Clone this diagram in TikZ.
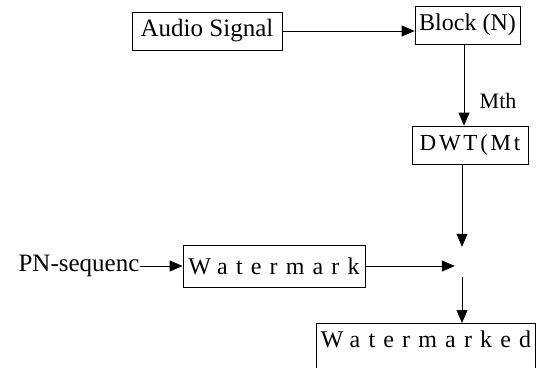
\documentclass[tikz,border=0pt]{standalone}
\usepackage{fontspec}
\setmainfont{Liberation Serif}
\newfontfamily\spacedfont[LetterSpace=34]{Liberation Serif}
\newfontfamily\dwtfont[LetterSpace=12]{Liberation Serif}
\usetikzlibrary{arrows.meta, positioning}

\begin{document}
\begin{tikzpicture}[
  x=1pt, y=-1pt,
  box/.style={rectangle, draw, line width=0.8pt, inner sep=0pt, align=center,
              minimum height=38pt, font=\fontsize{24}{28}\selectfont},
  wbox/.style={box, font=\fontsize{24}{27}\selectfont\spacedfont},
  arr/.style={-{Triangle[length=13pt, width=11pt]}, line width=0.8pt}
]
  \useasboundingbox (0,0) rectangle (537,367);

  % Boxes
  \node[box, minimum width=150pt, font=\fontsize{25}{28}\selectfont] (audio) at (207,31) {Audio Signal};
  \node[box, minimum width=105pt] (block) at (467.5,25) {Block (N)};
  \node[box, minimum width=116pt, font=\fontsize{23}{26}\selectfont\dwtfont] (dwt) at (470,145) {DWT(Mt};
  \node[wbox, minimum width=182pt, minimum height=42pt] (wm) at (274,266) {Watermark};
  \node[wbox, minimum width=219pt, text height=24pt, text depth=26pt, minimum height=0pt,
        anchor=north] (wmd) at (426,323) {Watermarked};
  \node[font=\fontsize{25}{28}\selectfont, inner sep=0pt] (pn) at (79,266) {PN-sequenc};

  % Junction (left empty)
  \node[minimum width=14pt, minimum height=30pt, inner sep=0pt] (sum) at (462,262) {};

  % Connectors
  \draw[arr] (audio.east) -- (audio.east -| block.west);
  \draw[arr] ([xshift=-3.5pt]block.south) -- ([xshift=-3.5pt]block.south |- dwt.north)
    node[pos=0.7, right=12pt, font=\fontsize{22}{24}\selectfont] (mth) {Mth};
  \draw[arr] (dwt.south -| sum) -- (sum.north);
  \draw[arr] (pn.east) -- (wm.west);
  \draw[arr] (wm.east) -- (wm.east -| sum.west);
  \draw[arr] (sum.south) -- (sum.south |- wmd.north);
\end{tikzpicture}
\end{document}
